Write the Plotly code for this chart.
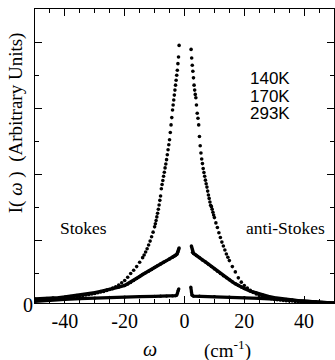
import plotly.graph_objects as go

# ---- data ----
# 140K : strong quasi-elastic peak (drawn as dots)
x140_stokes = [-1.8, -2.0, -2.2, -2.4, -2.6, -2.8, -3.0, -3.2, -3.4, -3.6, -3.8, -4.0,
               -4.25, -4.5, -4.75, -5.0, -5.25, -5.5, -5.75, -6.0, -6.25, -6.5, -6.75,
               -7.0, -7.25, -7.5, -7.75, -8.0, -8.25, -8.5, -8.75, -9.0, -9.25, -9.5,
               -9.75, -10.0, -10.5, -11.0, -11.5, -12.0, -12.5, -13.0, -13.5, -14.0,
               -15, -16, -17, -18, -19, -20, -21, -22, -23, -24, -25, -26, -27, -28,
               -29, -30, -31, -32, -33, -34, -35, -36, -37, -38, -39, -40, -41, -42,
               -43, -44, -45, -46, -47, -48, -49, -50]
y140_stokes = [7.90, 7.55, 7.35, 7.15, 7.00, 6.85, 6.70, 6.55, 6.40, 6.25, 6.10, 5.95,
               5.72, 5.50, 5.27, 5.05, 4.90, 4.75, 4.60, 4.45, 4.32, 4.20, 4.07,
               3.95, 3.82, 3.70, 3.57, 3.35, 3.22, 3.08, 2.95, 2.83, 2.72, 2.61,
               2.51, 2.42, 2.26, 2.12, 1.99, 1.87, 1.76, 1.66, 1.57, 1.49,
               1.35, 1.22, 1.11, 1.01, 0.90, 0.80, 0.73, 0.66, 0.61, 0.57, 0.53, 0.50,
               0.47, 0.45, 0.43, 0.41, 0.39, 0.375, 0.36, 0.345, 0.33, 0.32, 0.31,
               0.30, 0.29, 0.28, 0.27, 0.26, 0.25, 0.245, 0.24, 0.23, 0.225, 0.22,
               0.21, 0.20]
x140_anti = [2.2, 2.4, 2.6, 2.8, 3.0, 3.2, 3.4, 3.6, 3.8, 4.0, 4.25, 4.5, 4.75, 5.0,
             5.25, 5.5, 5.75, 6.0, 6.25, 6.5, 6.75, 7.0, 7.25, 7.5, 7.75, 8.0, 8.25,
             8.5, 8.75, 9.0, 9.25, 9.5, 9.75, 10.0, 10.5, 11.0, 11.5, 12.0, 12.5,
             13.0, 13.5, 14.0, 14.5, 15, 16, 17, 18, 19, 20, 21, 22, 23, 24, 25, 26,
             27, 28, 29, 30, 31, 32, 33, 34, 35, 36, 37, 38, 39, 40, 41, 42, 43, 44,
             45, 46, 47, 48, 49, 50]
y140_anti = [7.78, 7.52, 7.30, 7.12, 6.92, 6.70, 6.55, 6.42, 6.32, 6.10, 5.85, 5.70,
             5.50, 5.15, 4.87, 4.65, 4.47, 4.33, 4.18, 4.06, 3.95, 3.83, 3.72, 3.62,
             3.50, 3.38, 3.28, 3.17, 3.07, 3.03, 2.95, 2.86, 2.78, 2.70, 2.54, 2.40,
             2.24, 2.10, 1.96, 1.84, 1.72, 1.60, 1.50, 1.40, 1.22, 1.06, 0.88, 0.75,
             0.65, 0.57, 0.50, 0.44, 0.39, 0.35, 0.32, 0.29, 0.27, 0.25, 0.235, 0.22,
             0.21, 0.20, 0.19, 0.185, 0.18, 0.17, 0.165, 0.16, 0.155, 0.15, 0.145,
             0.14, 0.135, 0.13, 0.125, 0.12, 0.115, 0.11, 0.105]

# 170K
x170_stokes = [-1.8, -2.0, -2.2, -2.5, -3.0, -3.5, -4, -5, -6, -7, -8, -9, -10, -11,
               -12, -13, -14, -15, -16, -17, -18, -19, -20, -22, -24, -26, -28, -30,
               -32, -34, -36, -38, -40, -42, -44, -46, -48, -50]
y170_stokes = [1.78, 1.72, 1.66, 1.60, 1.56, 1.53, 1.50, 1.45, 1.40, 1.35, 1.30, 1.25,
               1.19, 1.13, 1.08, 1.03, 0.98, 0.92, 0.86, 0.80, 0.74, 0.69, 0.65, 0.60,
               0.55, 0.51, 0.47, 0.43, 0.40, 0.37, 0.345, 0.32, 0.30, 0.28, 0.27,
               0.26, 0.25, 0.24]
x170_anti = [2.3, 2.7, 3.0, 3.5, 4, 5, 6, 7, 8, 9, 10, 11, 12, 13, 14, 15, 16, 17, 18,
             19, 20, 22, 24, 26, 28, 30, 32, 34, 36, 38, 40, 42, 44, 46, 48, 50]
y170_anti = [1.84, 1.65, 1.62, 1.59, 1.55, 1.49, 1.42, 1.36, 1.29, 1.22, 1.15, 1.08,
             1.01, 0.94, 0.88, 0.82, 0.76, 0.70, 0.65, 0.60, 0.56, 0.48, 0.42, 0.37,
             0.32, 0.28, 0.25, 0.23, 0.21, 0.19, 0.17, 0.16, 0.15, 0.14, 0.13, 0.12]

# 293K
x293_stokes = [-1.9, -2.1, -2.3, -2.6, -3, -4, -6, -8, -10, -15, -20, -25, -30, -35,
               -40, -45, -50]
y293_stokes = [0.55, 0.50, 0.42, 0.36, 0.34, 0.335, 0.33, 0.325, 0.32, 0.31, 0.30,
               0.29, 0.27, 0.25, 0.23, 0.21, 0.17]
x293_anti = [2.1, 2.3, 2.5, 3, 5, 10, 15, 20, 25, 30, 35, 40, 45, 50]
y293_anti = [0.60, 0.45, 0.36, 0.33, 0.325, 0.31, 0.295, 0.28, 0.26, 0.24, 0.21, 0.18,
             0.15, 0.12]

temps = ["140K", "170K", "293K"]
x_ticks = [-40, -20, 0, 20, 40]
x_ticktext = ["-40", "-20", "0", "20", "40"]

SERIF = "Liberation Serif, Times New Roman, Times, serif"
SANS = "Liberation Sans, Arial, Helvetica, sans-serif"

fig = go.Figure()

for xs, ys in [(x140_stokes, y140_stokes), (x140_anti, y140_anti)]:
    fig.add_trace(go.Scatter(x=xs, y=ys, mode="markers", name=temps[0],
                             marker=dict(color="black", size=3.6)))
for xs, ys in [(x170_stokes, y170_stokes), (x170_anti, y170_anti)]:
    fig.add_trace(go.Scatter(x=xs, y=ys, mode="lines+markers", name=temps[1],
                             line=dict(color="black", width=3.4),
                             marker=dict(color="black", size=3.4)))
for xs, ys in [(x293_stokes, y293_stokes), (x293_anti, y293_anti)]:
    fig.add_trace(go.Scatter(x=xs, y=ys, mode="lines+markers", name=temps[2],
                             line=dict(color="black", width=3.2),
                             marker=dict(color="black", size=3.2)))

fig.update_layout(
    width=335, height=360,
    margin=dict(l=35, r=1, t=9, b=57),
    paper_bgcolor="white", plot_bgcolor="white",
    showlegend=False,
    font=dict(family=SERIF, color="black"),
)

fig.update_xaxes(
    range=[-50, 50], tickvals=x_ticks, ticktext=x_ticktext,
    ticks="inside", ticklen=7, tickwidth=1, tickcolor="black",
    minor=dict(dtick=5, tick0=0, ticks="inside", ticklen=4, tickwidth=1, tickcolor="black"),
    showline=True, linecolor="black", linewidth=1, mirror="ticks",
    showgrid=False, zeroline=False,
    tickfont=dict(family=SERIF, size=20, color="black"),
)
fig.update_yaxes(
    range=[0.12, 9.0], tickvals=[2, 4, 6, 8], showticklabels=False,
    ticks="inside", ticklen=7, tickwidth=1, tickcolor="black",
    minor=dict(tickvals=[1, 3, 5, 7], ticks="inside", ticklen=4, tickwidth=1, tickcolor="black"),
    showline=True, linecolor="black", linewidth=1, mirror="ticks",
    showgrid=False, zeroline=False,
)

def ann(text, x, y, size, family=SERIF, xanchor="center", angle=0):
    fig.add_annotation(text=text, x=x, y=y, xref="paper", yref="paper",
                       showarrow=False, xanchor=xanchor, yanchor="middle",
                       textangle=angle, font=dict(family=family, size=size, color="black"))

ann("0", -0.025, -0.007, 20)
ann("I( <i>ω</i> )  (Arbitrary Units)", -0.063, 0.612, 19, angle=-90)
ann("<i>ω</i>", 0.385, -0.158, 20)
ann("(cm<sup>-1</sup>)", 0.645, -0.157, 19)
ann(temps[0], 0.712, 0.762, 17, family=SANS, xanchor="left")
ann(temps[1], 0.712, 0.702, 17, family=SANS, xanchor="left")
ann(temps[2], 0.712, 0.643, 17, family=SANS, xanchor="left")
ann("Stokes", 0.162, 0.255, 17.5)
ann("anti-Stokes", 0.839, 0.255, 17.5)

fig.write_html(
    "out.html",
    config={"displayModeBar": False, "staticPlot": True},
    post_script="document.body.style.margin='0';document.body.style.padding='0';"
                "document.body.style.overflow='hidden';",
)
